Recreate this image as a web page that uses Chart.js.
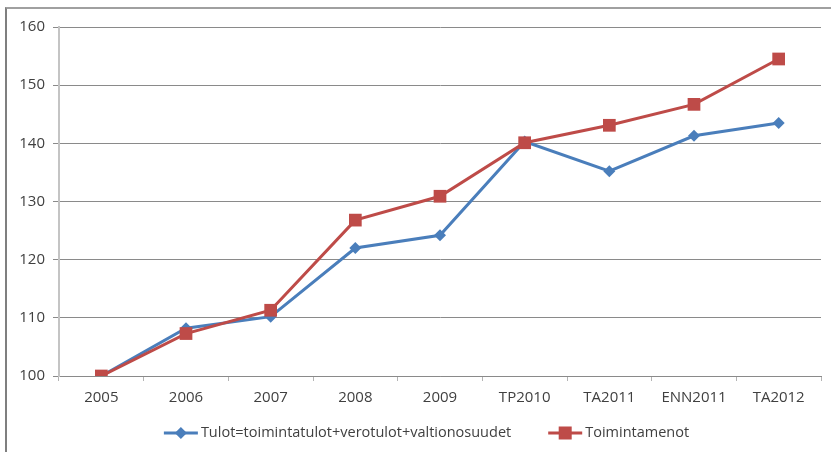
<!DOCTYPE html>
<html>
<head>
<meta charset="utf-8">
<script src="https://cdn.jsdelivr.net/npm/chart.js@4/dist/chart.umd.min.js"></script>
<style>
  body { margin: 0; background: #fff; }
  #kehys { position: absolute; left: 5px; top: 7px; width: 830px; height: 450px;
           border-left: 2px solid #7f7f7f; border-top: 2px solid #a0a0a0; }
  #alue { position: absolute; left: 0; top: 0; width: 831px; height: 452px; }
</style>
</head>
<body>
<div id="kehys"></div>
<div id="alue"><canvas id="kaavio" width="831" height="452"></canvas></div>
<script>
const vuodet = ['2005', '2006', '2007', '2008', '2009', 'TP2010', 'TA2011', 'ENN2011', 'TA2012'];
const tulot = [100, 108.2, 110.2, 122.0, 124.2, 140.3, 135.2, 141.3, 143.5];
const menot = [100, 107.3, 111.3, 126.8, 130.9, 140.1, 143.1, 146.7, 154.5];
const yMin = 100, yMax = 160, yAskel = 10;

const sininen = '#4a7ebb';
const punainen = '#be4b48';
const tekstiVari = '#404040';
const fontti = "'Open Sans', sans-serif";

// selite piirretään itse: viiva + merkki + teksti, kuten Excelissä
const selite = {
    id: 'selite',
    afterDraw: function (chart) {
        let c = chart.ctx;
        let y = 433;
        let viiva = 34, vali = 3, rako = 37;
        c.save();
        c.font = '14.5px ' + fontti;
        c.textBaseline = 'middle';
        let leveydet = chart.data.datasets.map(function (ds) {
            return c.measureText(ds.label).width;
        });
        let yht = 0;
        leveydet.forEach(function (w, i) {
            yht += viiva + vali + w + (i > 0 ? rako : 0);
        });
        let x = 426.5 - yht / 2;
        chart.data.datasets.forEach(function (ds, i) {
            c.strokeStyle = ds.borderColor;
            c.lineWidth = 3;
            c.beginPath();
            c.moveTo(x, y);
            c.lineTo(x + viiva, y);
            c.stroke();
            c.fillStyle = ds.borderColor;
            let kx = x + viiva / 2;
            if (ds.pointStyle === 'rect') {
                c.fillRect(kx - 6.5, y - 6.5, 13, 13);
            } else {
                c.beginPath();
                c.moveTo(kx, y - 6);
                c.lineTo(kx + 6, y);
                c.lineTo(kx, y + 6);
                c.lineTo(kx - 6, y);
                c.closePath();
                c.fill();
            }
            c.fillStyle = tekstiVari;
            c.fillText(ds.label, x + viiva + vali, y);
            x += viiva + vali + leveydet[i] + rako;
        });
        c.restore();
    }
};

var ctx = document.getElementById('kaavio').getContext('2d');
var kaavio = new Chart(ctx, {
    type: 'line',
    data: {
        labels: vuodet,
        datasets: [
            {
                label: 'Tulot=toimintatulot+verotulot+valtionosuudet',
                data: tulot,
                borderColor: sininen,
                backgroundColor: sininen,
                borderWidth: 3,
                pointStyle: 'rectRot',
                pointRadius: 6,
                pointBorderWidth: 0,
                order: 1
            },
            {
                label: 'Toimintamenot',
                data: menot,
                borderColor: punainen,
                backgroundColor: punainen,
                borderWidth: 3,
                pointStyle: 'rect',
                pointRadius: 9,
                pointBorderWidth: 0,
                order: 0
            }
        ]
    },
    options: {
        responsive: false,
        animation: false,
        layout: {
            padding: { left: 10, right: 10, top: 27, bottom: 36 }
        },
        plugins: {
            tooltip: { enabled: false },
            legend: { display: false }
        },
        scales: {
            x: {
                offset: true,
                afterFit: function (scale) { scale.height = 40; },
                grid: {
                    offset: true,
                    drawOnChartArea: false,
                    drawTicks: true,
                    tickLength: 5,
                    color: '#b4b4b4'
                },
                border: { color: '#8a8a8a', width: 1 },
                ticks: {
                    padding: 8,
                    color: tekstiVari,
                    font: { family: fontti, size: 15 }
                }
            },
            y: {
                min: yMin,
                max: yMax,
                afterFit: function (scale) { scale.width = 49; },
                grid: {
                    color: '#8a8a8a',
                    tickLength: 6
                },
                border: { color: '#c4c4c4', width: 2 },
                ticks: {
                    stepSize: yAskel,
                    padding: 8,
                    color: tekstiVari,
                    font: { family: fontti, size: 15 }
                }
            }
        }
    },
    plugins: [selite]
});
</script>
</body>
</html>
